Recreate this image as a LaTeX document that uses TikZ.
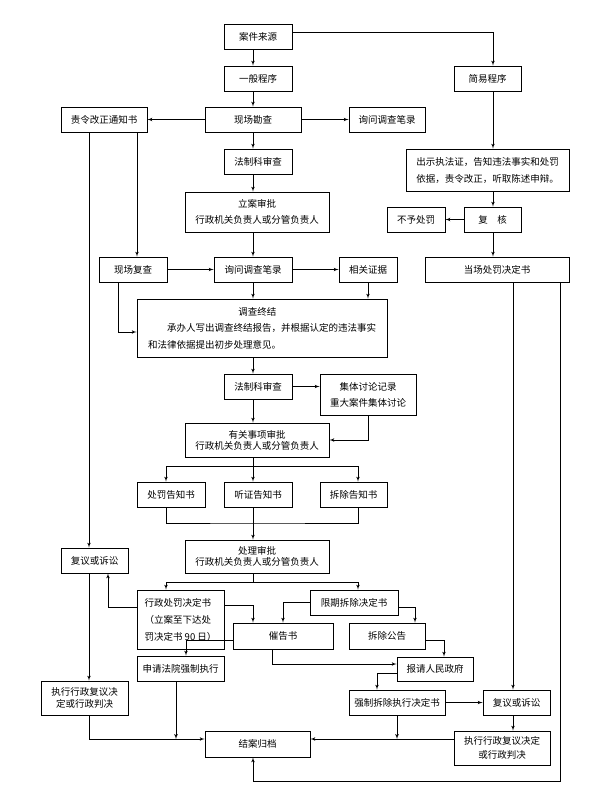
\documentclass[tikz,border=0pt]{standalone}
\usepackage{fontspec}
\setmainfont{Noto Sans CJK SC}
\usepackage{tikz}
\usetikzlibrary{arrows}

\begin{document}
\begin{tikzpicture}[
    x=1pt,
    y=-1pt,
    block/.style={
        rectangle,
        draw,
        line width=0.7pt,
        inner sep=0pt,
        align=center,
        minimum height=25,
        font=\fontsize{9.5}{12}\selectfont
    },
    line/.style={
        draw,
        -latex',
        line width=0.7pt
    },
    wire/.style={
        draw,
        line width=0.7pt
    }
]
\useasboundingbox (0,0) rectangle (597,797);

% Lanes
\coordinate (spine) at (253,0);
\coordinate (quick) at (493,0);
\coordinate (laneA) at (89,0);
\coordinate (laneB) at (137,0);
\coordinate (laneC) at (118,0);
\coordinate (laneD) at (166,0);
\coordinate (laneE) at (358,0);
\coordinate (laneH) at (513,0);
\coordinate (laneI) at (560,0);
\coordinate (fork1) at (253,466);
\coordinate (join1) at (253,523);
\coordinate (fork2) at (253,582);
\coordinate (merge) at (0,739);
\coordinate (bottom) at (0,781);

% Nodes
\node [block, minimum width=68] (source) at (258,36.5) {案件来源};
\node [block, minimum width=68] (general) at (258,78.5) {一般程序};
\node [block, minimum width=96] (survey) at (253,119.5) {现场勘查};
\node [block, minimum width=86] (notice) at (104,119.5) {责令改正通知书};
\node [block, minimum width=76] (inquiryA) at (387,119.5) {询问调查笔录};
\node [block, minimum width=68] (legalA) at (258,161.5) {法制科审查};
\node [block, minimum width=144, minimum height=40] (filing) at (257,212) {立案审批\\[4pt]行政机关负责人或分管负责人};
\node [block, minimum width=67] (simple) at (487.5,78.5) {简易程序};
\node [block, minimum width=163, minimum height=42, align=left] (showcert) at (487.5,170) {出示执法证，告知违法事实和处罚\\[5pt]依据，责令改正，听取陈述申辩。};
\node [block, minimum width=57] (review) at (492.5,219.5) {复\hspace{1em}核};
\node [block, minimum width=58] (nopunish) at (416,219.5) {不予处罚};
\node [block, minimum width=144] (onsite) at (497,269.5) {当场处罚决定书};
\node [block, minimum width=68] (recheck) at (133,269.5) {现场复查};
\node [block, minimum width=78] (inquiryB) at (253,269.5) {询问调查笔录};
\node [block, minimum width=58] (evidence) at (368,269.5) {相关证据};
\node [block, minimum width=250, minimum height=58, align=left] (conclude) at (262,328) {\hspace*{9.5em}调查终结\\[4.5pt]\hspace*{2em}承办人写出调查终结报告，并根据认定的违法事实\\[4.5pt]和法律依据提出初步处理意见。};
\node [block, minimum width=68] (legalB) at (258,386.5) {法制科审查};
\node [block, minimum width=96, minimum height=41] (group) at (368,394.5) {集体讨论记录\\[4pt]重大案件集体讨论};
\node [block, minimum width=144, minimum height=34] (approve) at (257,440) {有关事项审批\\[-1pt]行政机关负责人或分管负责人};
\node [block, minimum width=68] (penaltyinfo) at (171,494.5) {处罚告知书};
\node [block, minimum width=68] (hearinginfo) at (258,494.5) {听证告知书};
\node [block, minimum width=67] (demolishinfo) at (353.5,494.5) {拆除告知书};
\node [block, minimum width=67] (appealL) at (94.5,560.5) {复议或诉讼};
\node [block, minimum width=144, minimum height=33] (decide) at (257,556.5) {处理审批\\[-1pt]行政机关负责人或分管负责人};
\node [block, minimum width=87, minimum height=59, align=left] (penaltydec) at (180.5,619.5) {行政处罚决定书\\[5pt]（立案至下达处\\[5pt]罚决定书 90 日）};
\node [block, minimum width=88] (demolishdec) at (354,602.5) {限期拆除决定书};
\node [block, minimum width=100, minimum height=26] (urge) at (283,636) {催告书};
\node [block, minimum width=76, minimum height=26] (demolishpub) at (387,636) {拆除公告};
\node [block, minimum width=76, minimum height=24] (government) at (435,669) {报请人民政府};
\node [block, minimum width=87] (courtexec) at (180.5,668.5) {申请法院强制执行};
\node [block, minimum width=87, minimum height=34] (execL) at (84.5,698) {执行行政复议决\\定或行政判决};
\node [block, minimum width=105, minimum height=26] (archive) at (257.5,744) {结案归档};
\node [block, minimum width=96] (forcedec) at (397,702.5) {强制拆除执行决定书};
\node [block, minimum width=67] (appealR) at (516.5,702.5) {复议或诉讼};
\node [block, minimum width=96, minimum height=34] (execR) at (502,748) {执行行政复议决定\\[2pt]或行政判决};

% Paths
\path [line] (source.south -| spine) -- (general.north -| spine);
\path [line] (general.south -| spine) -- (survey.north);
\path [line] (survey.south) -- (legalA.north -| spine);
\path [line] (legalA.south -| spine) -- (filing.north -| spine);
\path [line] (filing.south -| spine) -- (inquiryB.north);
\path [line] (inquiryB.south) -- (conclude.north -| spine);
\path [line] (conclude.south -| spine) -- (legalB.north -| spine);
\path [line] (legalB.south -| spine) -- (approve.north -| spine);
\path [line] (survey.west) -- (notice.east);
\path [line] (survey.east) -- (inquiryA.west);
\path [line] ([yshift=4.5pt]source.east) -| (simple.north -| quick);
\path [line] (simple.south -| quick) -- (showcert.north -| quick);
\path [line] (showcert.south -| quick) -- (review.north -| quick);
\path [line] (review.south -| quick) -- (onsite.north -| quick);
\path [line] (review.west) -- (nopunish.east);
\path [line] (notice.south -| laneB) -- (recheck.north -| laneB);
\path [line] (notice.south -| laneA) -- (appealL.north -| laneA);
\path [line] (recheck.east) -- (inquiryB.west);
\path [line] (inquiryB.east) -- (evidence.west);
\path [line] (evidence.south) -- (evidence.south |- conclude.north);
\path [line] (recheck.south -| laneC) |- ([yshift=-4pt]conclude.west);
\path [line] (legalB.east) -- (legalB.east -| group.west);
\path [line] (group.south) |- (approve.east);
\path [wire] (approve.south -| spine) -- (fork1);
\path [line] (fork1) -| (penaltyinfo.north -| laneD);
\path [line] (fork1) -| (demolishinfo.north -| laneE);
\path [line] (fork1) -- (hearinginfo.north -| spine);
\path [wire] (penaltyinfo.south -| laneD) |- (join1) -| (demolishinfo.south -| laneE);
\path [line] (hearinginfo.south -| spine) -- (decide.north -| spine);
\path [wire] (decide.south -| spine) -- (fork2);
\path [line] (fork2) -| (penaltydec.north -| laneD);
\path [line] (fork2) -| (demolishdec.north -| laneE);
\path [line] ([yshift=14.5pt]penaltydec.east) -| (urge.north -| spine);
\path [line] (demolishdec.west) -| (urge.north);
\path [line] ([yshift=-4.5pt]demolishdec.east) -| ([xshift=28pt]demolishpub.north);
\path [line] ([yshift=-4pt]demolishpub.east) -| ([xshift=9pt]government.north);
\path [line] ([yshift=-4pt]urge.west) -| ([xshift=5.5pt]courtexec.north);
\path [line] ([xshift=-11pt]urge.south) |- ([yshift=5pt]government.west);
\path [line] ([yshift=12.5pt]penaltydec.west) -| ([xshift=13.5pt]appealL.south);
\path [line] (appealL.south -| laneA) -- (execL.north -| laneA);
\path [line] (execL.south -| laneA) |- (archive.west |- merge);
\path [line] ([xshift=-4.5pt]courtexec.south) -- ([xshift=-4.5pt]courtexec.south |- merge);
\path [line] (onsite.south -| laneH) -- (appealR.north -| laneH);
\path [line] (appealR.south -| laneH) -- (execR.north -| laneH);
\path [line] (onsite.south -| laneI) |- (spine |- bottom) -- (archive.south -| spine);
\path [line] ([yshift=-4pt]government.west) -| ([xshift=-20pt]forcedec.north);
\path [line] (forcedec.east) -- (forcedec.east -| appealR.west);
\path [line] (execR.west |- merge) -- (archive.east |- merge);
\path [line] (forcedec.south) -- (forcedec.south |- merge);

\end{tikzpicture}
\end{document}
